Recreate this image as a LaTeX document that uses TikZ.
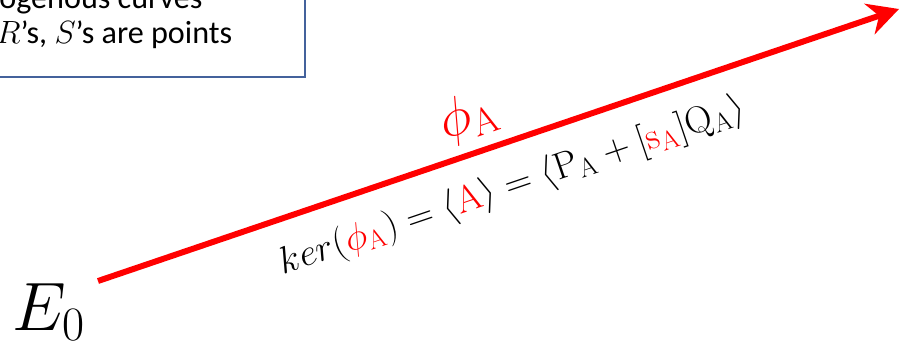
\RequirePackage{fix-cm}
\documentclass[tikz,border=0pt]{standalone}
\usepackage{amsmath,amssymb}
\usepackage{fontspec}
\newfontfamily\notefont{Carlito}
\usetikzlibrary{arrows.meta,positioning,calc}
\usepackage{xcolor}
\definecolor{isored}{RGB}{255,0,0}
\definecolor{noteblue}{RGB}{68,98,156}
\tikzset{
    isoarrow/.style={isored, line width=3.4pt, -{Stealth[length=0.62cm, width=0.64cm, inset=0.2cm]}},
    notebox/.style={draw=noteblue, line width=1.1pt, fill=white},
    notetext/.style={anchor=base west, inner sep=0pt, font=\notefont\fontsize{18.3}{22}\selectfont},
    curvelabel/.style={anchor=base west, inner sep=0pt, font=\fontsize{39}{39}\selectfont},
    maplabel/.style={sloped, inner sep=0pt, text=isored, font=\fontsize{31}{31}\selectfont},
    kerlabel/.style={sloped, inner sep=0pt, text=black, font=\fontsize{21.5}{21.5}\selectfont},
}

\begin{document}
\begin{tikzpicture}[x=0.02cm, y=-0.02cm]
    \useasboundingbox (0,0) rectangle (900,349);
    \clip (0,0) rectangle (900,349);
    % Note box (cut by the frame)
    \draw[notebox] (-30,-30) rectangle (305,77);
    \node[notetext] (curvesline) at (-1,8) {ogenous curves};
    \node[notetext] (pointsline) at (-4,43) {$R$’s, $S$’s are points};
    % Start curve
    \node[curvelabel] (E0) at (12,330) {$E_0$};
    % Isogeny
    \coordinate (isostart) at (98,281);
    \coordinate (isoend) at (899,9);
    \draw[isoarrow] (isostart) -- (isoend)
        node[maplabel, pos=0.477, above=0.17cm] (phiA) {$\phi_{\mathrm{A}}$}
        node[kerlabel, pos=0.5, below=0.44cm] (kerA) {$ker(\textcolor{isored}{\phi_{\mathrm{A}}}) = \langle \textcolor{isored}{\mathrm{A}} \rangle = \langle \mathrm{P}_{\mathrm{A}} + [\textcolor{isored}{\mathrm{s}_{\mathrm{A}}}]\mathrm{Q}_{\mathrm{A}} \rangle$};
\end{tikzpicture}
\end{document}
